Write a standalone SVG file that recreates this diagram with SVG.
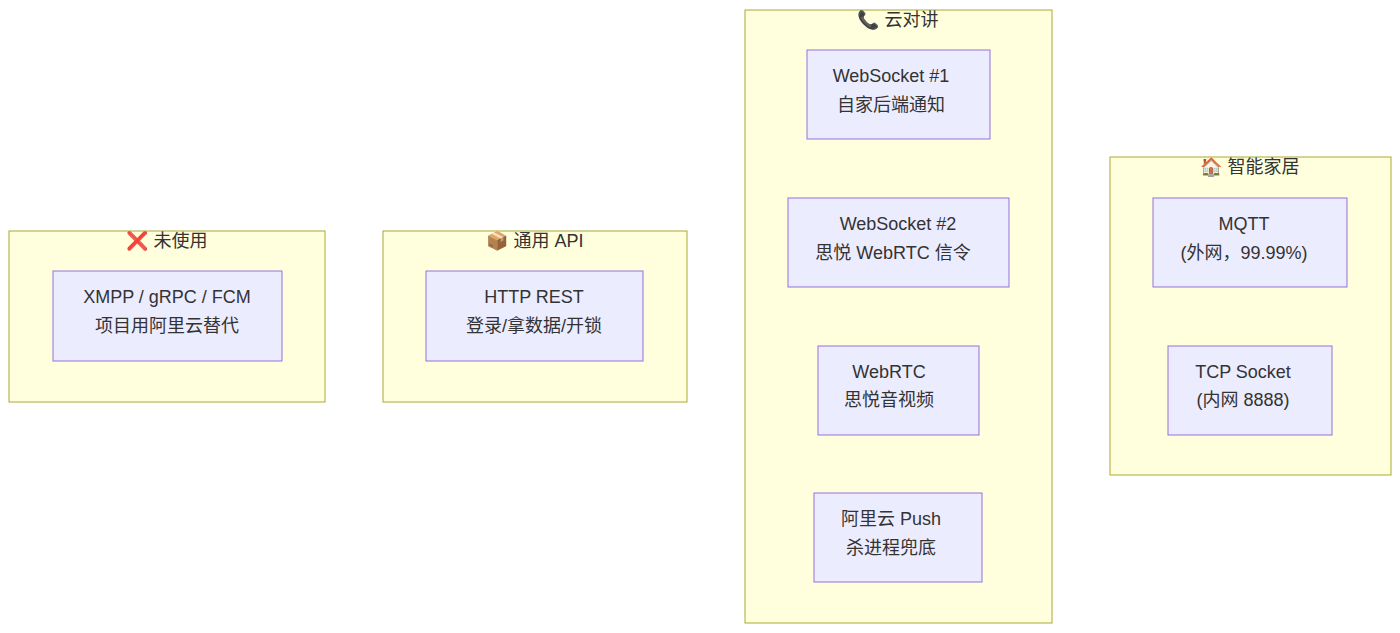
<svg xmlns="http://www.w3.org/2000/svg" width="1400" height="633" viewBox="0 0 1400 633">
<style>
.c{fill:#ffffde;stroke:#aaaa33;stroke-width:1}
.n{fill:#ececff;stroke:#9370db;stroke-width:1}
text{font-family:"Liberation Sans","Noto Sans CJK SC",sans-serif;font-size:18px;fill:#333;text-anchor:middle}
</style>
<rect width="1400" height="633" fill="#fff"/>
<g id="cluster-unused"><rect class="c" x="9" y="231" width="316" height="171"/><text x="167" y="247">❌ 未使用</text></g>
<g id="cluster-api"><rect class="c" x="383" y="231" width="304" height="171"/><text x="535" y="247">📦 通用 API</text></g>
<g id="cluster-intercom"><rect class="c" x="745" y="10" width="307" height="613"/><text x="898" y="26">📞 云对讲</text></g>
<g id="cluster-home"><rect class="c" x="1110" y="157" width="281" height="318"/><text x="1250" y="173">🏠 智能家居</text></g>
<g id="n1"><rect class="n" x="53" y="271" width="229" height="90"/><text x="167" y="303">XMPP / gRPC / FCM</text><text x="167" y="332">项目用阿里云替代</text></g>
<g id="n2"><rect class="n" x="426" y="271" width="217" height="90"/><text x="534" y="303">HTTP REST</text><text x="534" y="332">登录/拿数据/开锁</text></g>
<g id="n3"><rect class="n" x="807" y="50" width="183" height="89"/><text x="891" y="82">WebSocket #1</text><text x="891" y="111">自家后端通知</text></g>
<g id="n4"><rect class="n" x="788" y="198" width="221" height="89"/><text x="898" y="230">WebSocket #2</text><text x="893" y="259">思悦 WebRTC 信令</text></g>
<g id="n5"><rect class="n" x="818" y="346" width="161" height="89"/><text x="889" y="378">WebRTC</text><text x="889" y="406">思悦音视频</text></g>
<g id="n6"><rect class="n" x="814" y="493" width="168" height="89"/><text x="891" y="525">阿里云 Push</text><text x="891" y="554">杀进程兜底</text></g>
<g id="n7"><rect class="n" x="1153" y="198" width="194" height="89"/><text x="1244" y="230">MQTT</text><text x="1244" y="259">(外网，99.99%)</text></g>
<g id="n8"><rect class="n" x="1168" y="346" width="164" height="89"/><text x="1243" y="378">TCP Socket</text><text x="1243" y="406">(内网 8888)</text></g>
<g id="connectors"/>
</svg>
